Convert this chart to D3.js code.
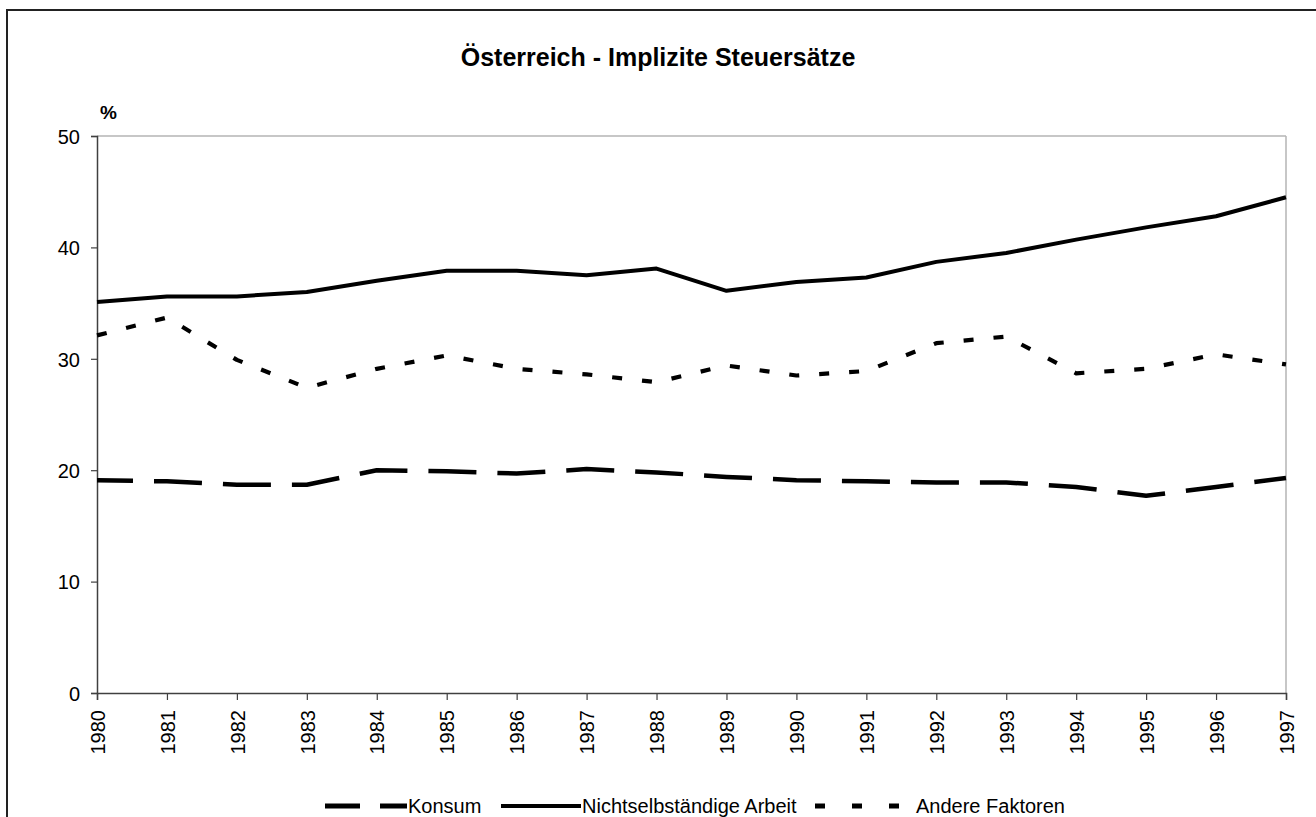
<!DOCTYPE html>
<html><head><meta charset="utf-8">
<script src="https://cdn.jsdelivr.net/npm/d3@7"></script>
<style>body{margin:0;background:#fff;}svg{display:block;font-family:"Liberation Sans",Arial,sans-serif;}</style>
</head><body>
<svg id="c" width="1316" height="817"></svg>
<script>
const years = [1980,1981,1982,1983,1984,1985,1986,1987,1988,1989,1990,1991,1992,1993,1994,1995,1996,1997];
const konsum = [19.1,19.0,18.7,18.7,20.0,19.9,19.7,20.1,19.8,19.4,19.1,19.0,18.9,18.9,18.5,17.7,18.5,19.3];
const arbeit = [35.1,35.6,35.6,36.0,37.0,37.9,37.9,37.5,38.1,36.1,36.9,37.3,38.7,39.5,40.7,41.8,42.8,44.5];
const andere = [32.1,33.7,29.9,27.4,29.1,30.3,29.1,28.6,27.9,29.4,28.5,28.9,31.4,32.0,28.7,29.1,30.4,29.5];
const yTicks = [0,10,20,30,40,50];
const seriesNames = ["Konsum","Nichtselbständige Arbeit","Andere Faktoren"];
const title = "Österreich - Implizite Steuersätze";

const svg = d3.select("#c");
svg.append("rect").attr("x",7).attr("y",10).attr("width",1320).attr("height",820)
  .attr("fill","#fff").attr("stroke","#222").attr("stroke-width",2);

const L=97,R=1286,T=136,B=693;
const x = d3.scaleLinear().domain([1980,1997]).range([L,R]);
const y = d3.scaleLinear().domain([0,50]).range([B,T]);

svg.append("line").attr("x1",L).attr("x2",R).attr("y1",y(50)).attr("y2",y(50)).attr("stroke","#b4b4b4").attr("stroke-width",1.5);
svg.append("line").attr("x1",R).attr("x2",R).attr("y1",T).attr("y2",B).attr("stroke","#b4b4b4").attr("stroke-width",1.5);

const yAxis = svg.append("g").attr("transform",`translate(${L},0)`)
  .call(d3.axisLeft(y).tickValues(yTicks).tickSize(6).tickPadding(11).tickFormat(d3.format("d")));
const xAxis = svg.append("g").attr("transform",`translate(0,${B})`)
  .call(d3.axisBottom(x).tickValues(years).tickSize(7).tickFormat(d=>String(d)));
[yAxis,xAxis].forEach(g=>{
  g.select(".domain").attr("stroke","#404040").attr("stroke-width",1.5);
  g.selectAll(".tick line").attr("stroke","#404040").attr("stroke-width",1.2);
  g.selectAll("text").attr("fill","#000").style("font-size","20px").style("font-family","Liberation Sans, Arial, sans-serif");
});
yAxis.selectAll("text").attr("dy","0.36em");
xAxis.selectAll("text").attr("transform","rotate(-90)").attr("text-anchor","end")
  .attr("x",-17).attr("y",0).attr("dy","0.36em");

const line = d3.line().x((d,i)=>x(years[i])).y(d=>y(d));
const styles = [
  {data:konsum, dash:"48,21", off:12, w:4.5},
  {data:arbeit, dash:null, off:0, w:4},
  {data:andere, dash:"10,20", off:0, w:4.2}
];
styles.forEach(s=>{
  const p = svg.append("path").datum(s.data).attr("d",line).attr("fill","none")
    .attr("stroke","#000").attr("stroke-width",s.w).attr("stroke-linejoin","round");
  if(s.dash) p.attr("stroke-dasharray",s.dash).attr("stroke-dashoffset",s.off);
});

svg.append("text").attr("x",658).attr("y",66).attr("text-anchor","middle")
  .style("font-weight","bold").style("font-size","25px").text(title);
svg.append("text").attr("x",100).attr("y",119).style("font-weight","bold").style("font-size","19px").text("%");

const ly = 806;
const leg = [
  {x1:325,x2:407,dash:"35,20",tx:408,w:5},
  {x1:501,x2:581,dash:null,tx:582,w:4},
  {x1:815,x2:899,dash:"10,27",tx:916,w:5}
];
leg.forEach((l,i)=>{
  const ln = svg.append("line").attr("x1",l.x1).attr("x2",l.x2).attr("y1",ly).attr("y2",ly)
    .attr("stroke","#000").attr("stroke-width",l.w);
  if(l.dash) ln.attr("stroke-dasharray",l.dash);
  svg.append("text").attr("x",l.tx).attr("y",ly).attr("dy","0.36em").style("font-size","20px").text(seriesNames[i]);
});
</script>
</body></html>
